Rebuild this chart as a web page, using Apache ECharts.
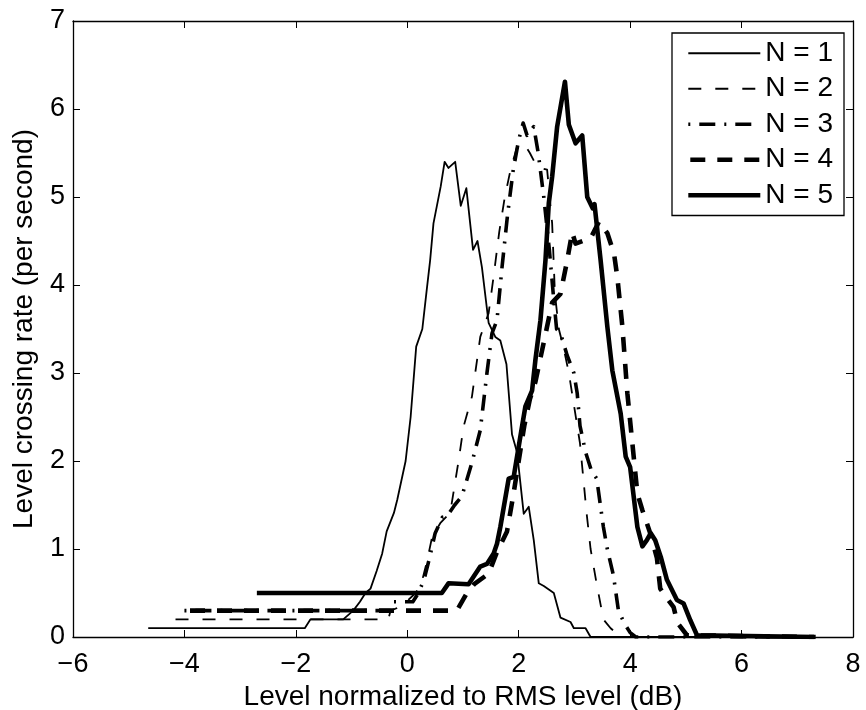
<!DOCTYPE html>
<html>
<head>
<meta charset="utf-8">
<script src="https://cdn.jsdelivr.net/npm/echarts@6/dist/echarts.min.js"></script>
<style>
html,body{margin:0;padding:0;background:#fff;}
#chart{width:866px;height:710px;}
</style>
</head>
<body>
<div id="chart"></div>
<script>
// ---- Data (x: level in dB, y: crossing rate per second) ----
const seriesNames = ['N = 1', 'N = 2', 'N = 3', 'N = 4', 'N = 5'];
const xTicks = { min: -6, max: 8, interval: 2 };
const yTicks = { min: 0, max: 7, interval: 1 };

const n1 = [[-4.65,0.1],[-1.84,0.1],[-1.74,0.2],[-1.15,0.2],[-0.97,0.3],[-0.85,0.4],[-0.75,0.5],[-0.66,0.55],[-0.55,0.75],[-0.45,0.95],[-0.37,1.2],[-0.24,1.41],[-0.18,1.56],[-0.03,2.0],[0.06,2.5],[0.16,3.3],[0.27,3.5],[0.35,3.95],[0.41,4.28],[0.47,4.7],[0.6,5.12],[0.67,5.4],[0.74,5.33],[0.86,5.4],[0.96,4.9],[1.06,5.1],[1.18,4.4],[1.26,4.5],[1.34,4.2],[1.46,3.57],[1.58,3.41],[1.67,3.37],[1.78,3.1],[1.88,2.3],[1.97,2.1],[2.09,1.4],[2.18,1.48],[2.27,1.1],[2.36,0.61],[2.45,0.58],[2.63,0.5],[2.75,0.22],[2.93,0.17],[2.99,0.1],[3.2,0.1],[3.29,0],[7.3,0]];

const n2 = [[-4.16,0.2],[-0.34,0.2],[-0.3,0.3],[-0.1,0.35],[0.15,0.5],[0.25,0.6],[0.35,0.85],[0.45,1.15],[0.6,1.3],[0.77,1.41],[0.92,2.0],[1.01,2.39],[1.16,2.73],[1.31,3.41],[1.46,3.68],[1.55,4.1],[1.65,4.6],[1.75,5.0],[1.85,5.3],[1.97,5.57],[2.1,5.6],[2.2,5.5],[2.33,5.34],[2.51,5.31],[2.6,4.7],[2.65,3.9],[2.72,3.5],[2.8,3.3],[2.9,3.0],[3.0,2.6],[3.1,2.2],[3.16,1.8],[3.22,1.4],[3.29,1.0],[3.4,0.6],[3.52,0.2],[3.65,0.1],[3.83,0],[7.3,0]];

const n3 = [[-4.0,0.3],[-0.3,0.3],[-0.25,0.4],[0.1,0.4],[0.2,0.5],[0.3,0.65],[0.4,0.9],[0.5,1.18],[0.63,1.36],[0.71,1.37],[0.85,1.5],[0.98,1.6],[1.16,1.98],[1.31,2.35],[1.43,3.0],[1.52,3.45],[1.61,3.6],[1.7,4.2],[1.8,4.8],[1.9,5.3],[2.0,5.65],[2.08,5.84],[2.15,5.7],[2.27,5.8],[2.35,5.5],[2.45,5.0],[2.55,4.4],[2.62,3.9],[2.68,3.5],[2.75,3.45],[2.87,3.2],[2.99,3.0],[3.05,2.77],[3.1,2.4],[3.2,2.1],[3.3,1.9],[3.4,1.8],[3.52,1.25],[3.59,1.0],[3.7,0.7],[3.79,0.3],[3.9,0.15],[4.0,0.05],[4.1,0],[7.3,0]];

const n4 = [[-3.9,0.3],[0.89,0.3],[1.07,0.5],[1.2,0.6],[1.46,0.72],[1.6,0.95],[1.79,1.2],[1.9,1.6],[2.0,2.0],[2.1,2.4],[2.2,2.7],[2.3,2.9],[2.4,3.2],[2.5,3.5],[2.6,3.8],[2.75,3.9],[2.87,4.28],[2.96,4.6],[3.02,4.47],[3.15,4.5],[3.29,4.53],[3.44,4.72],[3.59,4.59],[3.71,4.36],[3.77,4.09],[3.86,3.53],[3.95,2.77],[4.04,2.2],[4.13,1.63],[4.22,1.44],[4.35,1.2],[4.48,0.9],[4.54,0.55],[4.65,0.45],[4.78,0.34],[4.85,0.16],[5.02,0.02],[7.3,0]];

const n5 = [[-2.7,0.5],[0.62,0.5],[0.74,0.61],[1.1,0.6],[1.31,0.8],[1.43,0.83],[1.55,0.95],[1.61,1.06],[1.67,1.25],[1.82,1.8],[1.91,1.82],[2.03,2.28],[2.12,2.62],[2.24,2.8],[2.3,3.15],[2.39,3.6],[2.48,4.28],[2.54,4.93],[2.6,5.23],[2.69,5.8],[2.83,6.31],[2.9,5.82],[3.02,5.61],[3.14,5.7],[3.23,5.0],[3.33,4.87],[3.36,4.92],[3.47,4.28],[3.59,3.53],[3.68,3.03],[3.83,2.54],[3.92,2.05],[4.0,1.93],[4.13,1.25],[4.22,1.03],[4.3,1.1],[4.37,1.18],[4.45,1.1],[4.55,0.91],[4.66,0.65],[4.84,0.42],[4.96,0.38],[5.08,0.19],[5.2,0.02],[7.33,0]];

const seriesData = [n1, n2, n3, n4, n5];

// ---- Styles ----
const FONT = '"Liberation Sans", Arial, Helvetica, sans-serif';
const lineStyles = [
  { width: 1.8, type: 'solid' },
  { width: 1.8, type: [13, 14] },
  { width: 3.6, type: [16, 9, 2, 9], dashOffset: 25 },
  { width: 4.6, type: [15, 12] },
  { width: 4.6, type: 'solid' }
];

const minusFmt = v => String(v).replace('-', '\u2212');

const chart = echarts.init(document.getElementById('chart'), null, { renderer: 'canvas' });

const axisCommon = {
  axisLine: { show: true, onZero: false, lineStyle: { color: '#000', width: 1.3 } },
  axisTick: { show: true, inside: true, length: 7, lineStyle: { color: '#000', width: 1 } },
  splitLine: { show: false }
};

chart.setOption({
  backgroundColor: '#fff',
  animation: false,
  textStyle: { fontFamily: FONT },
  grid: { left: 73, right: 13, top: 21, bottom: 73, containLabel: false, outerBoundsMode: 'none' },
  legend: {
    orient: 'vertical',
    left: 672,
    top: 33,
    padding: [6, 11, 6, 14],
    backgroundColor: '#fff',
    borderColor: '#000',
    borderWidth: 1.3,
    itemWidth: 72,
    itemHeight: 20,
    itemGap: 7,
    itemStyle: { opacity: 0 },
    lineStyle: { width: 'inherit', type: 'inherit' },
    textStyle: { fontSize: 28, lineHeight: 28.5, color: '#000', fontFamily: FONT },
    data: seriesNames
  },
  xAxis: [
    Object.assign({
      type: 'value', position: 'bottom',
      min: xTicks.min, max: xTicks.max, interval: xTicks.interval,
      name: 'Level normalized to RMS level (dB)',
      nameLocation: 'middle', nameGap: 41,
      nameTextStyle: { fontSize: 28, color: '#000', fontFamily: FONT },
      axisLabel: { fontSize: 27, color: '#000', margin: 14, formatter: minusFmt, fontFamily: FONT }
    }, axisCommon),
    Object.assign({
      type: 'value', position: 'top',
      min: xTicks.min, max: xTicks.max, interval: xTicks.interval,
      axisLabel: { show: false }
    }, axisCommon)
  ],
  yAxis: [
    Object.assign({
      type: 'value', position: 'left',
      min: yTicks.min, max: yTicks.max, interval: yTicks.interval,
      name: 'Level crossing rate (per second)',
      nameLocation: 'middle', nameGap: 35,
      nameTextStyle: { fontSize: 28, color: '#000', fontFamily: FONT },
      axisLabel: { fontSize: 27, color: '#000', margin: 8, fontFamily: FONT }
    }, axisCommon),
    Object.assign({
      type: 'value', position: 'right',
      min: yTicks.min, max: yTicks.max, interval: yTicks.interval,
      axisLabel: { show: false }
    }, axisCommon)
  ],
  series: seriesData.map((d, i) => ({
    name: seriesNames[i],
    type: 'line',
    xAxisIndex: 0,
    yAxisIndex: 0,
    data: d,
    symbol: 'none',
    showSymbol: false,
    smooth: false,
    clip: true,
    z: 2 + i,
    itemStyle: { color: '#000' },
    lineStyle: Object.assign({ color: '#000', join: 'round', cap: 'butt' }, lineStyles[i])
  }))
});
</script>
</body>
</html>
